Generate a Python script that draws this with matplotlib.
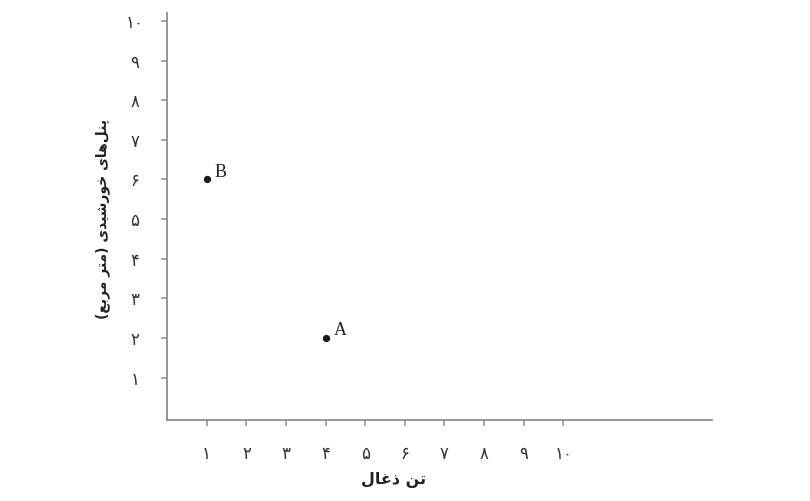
import matplotlib
matplotlib.use("Agg")
import matplotlib.pyplot as plt

# data
points = ["A", "B"]
coal_tons = [4, 1]
solar_m2 = [2, 6]
tick_values = list(range(1, 11))
persian_digits = "۰۱۲۳۴۵۶۷۸۹"
x_title = "تن ذغال"
y_title = "پنل\u200cهای خورشیدی (متر مربع)"

# presentation forms: isolated, final, initial, medial (None -> joins right only)
FORMS = {
    "ا": (0xFE8D, 0xFE8E, None, None),
    "ب": (0xFE8F, 0xFE90, 0xFE91, 0xFE92),
    "پ": (0xFB56, 0xFB57, 0xFB58, 0xFB59),
    "ت": (0xFE95, 0xFE96, 0xFE97, 0xFE98),
    "خ": (0xFEA5, 0xFEA6, 0xFEA7, 0xFEA8),
    "د": (0xFEA9, 0xFEAA, None, None),
    "ذ": (0xFEAB, 0xFEAC, None, None),
    "ر": (0xFEAD, 0xFEAE, None, None),
    "ش": (0xFEB5, 0xFEB6, 0xFEB7, 0xFEB8),
    "ع": (0xFEC9, 0xFECA, 0xFECB, 0xFECC),
    "غ": (0xFECD, 0xFECE, 0xFECF, 0xFED0),
    "ل": (0xFEDD, 0xFEDE, 0xFEDF, 0xFEE0),
    "م": (0xFEE1, 0xFEE2, 0xFEE3, 0xFEE4),
    "ن": (0xFEE5, 0xFEE6, 0xFEE7, 0xFEE8),
    "ه": (0xFEE9, 0xFEEA, 0xFEEB, 0xFEEC),
    "و": (0xFEED, 0xFEEE, None, None),
    "ی": (0xFBFC, 0xFBFD, 0xFBFE, 0xFBFF),
}


def shape(text):
    """Very small Persian shaper: pick joined forms, then reverse for LTR drawing."""
    out = []
    for i, ch in enumerate(text):
        if ch not in FORMS:
            if ch != "\u200c":
                out.append(ch)
            continue
        prev = text[i - 1] if i > 0 else ""
        nxt = text[i + 1] if i + 1 < len(text) else ""
        join_prev = prev in FORMS and FORMS[prev][2] is not None
        join_next = nxt in FORMS and FORMS[ch][2] is not None
        iso, fin, ini, med = FORMS[ch]
        if join_prev and join_next:
            code = med
        elif join_prev:
            code = fin
        elif join_next:
            code = ini
        else:
            code = iso
        out.append(chr(code))
    mirror = {"(": ")", ")": "("}
    return "".join(mirror.get(c, c) for c in reversed(out))


def fa_num(n):
    return "".join(persian_digits[int(d)] for d in str(n))


fig = plt.figure(figsize=(8.1, 5.01), dpi=100)
ax = fig.add_axes([0.2062, 0.1617, 0.6728, 0.8124])

ax.scatter(coal_tons, solar_m2, s=18, color="#1a1a1a", zorder=3)
for name, x, y in zip(points, coal_tons, solar_m2):
    ax.annotate(name, (x, y), xytext=(6, 2), textcoords="offset points",
                family="Liberation Serif", fontsize=13, color="#222222")

ax.set_xlim(0, 13.75)
ax.set_ylim(-0.07, 10.2)

ax.set_xticks(tick_values)
ax.set_yticks(tick_values)
ax.set_xticklabels([fa_num(v) for v in tick_values], family="DejaVu Sans",
                   fontsize=12, color="#333333")
ax.set_yticklabels([fa_num(v) for v in tick_values], family="DejaVu Sans",
                   fontsize=12, color="#333333", ha="center")

for side in ("top", "right"):
    ax.spines[side].set_visible(False)
for side in ("left", "bottom"):
    ax.spines[side].set_color("#8c8c8c")
    ax.spines[side].set_linewidth(1.3)

ax.tick_params(axis="both", direction="out", length=4, width=1.1, color="#8c8c8c")
ax.tick_params(axis="x", pad=14)
ax.tick_params(axis="y", pad=19)

ax.set_xlabel(shape(x_title), family="DejaVu Sans", fontsize=11.5,
              fontweight="bold", color="#222222")
ax.set_ylabel(shape(y_title), family="DejaVu Sans", fontsize=10,
              fontweight="bold", color="#222222")
ax.xaxis.set_label_coords(0.415, -0.128)
ax.yaxis.set_label_coords(-0.104, 0.494)

fig.savefig("out.png", dpi=100)
